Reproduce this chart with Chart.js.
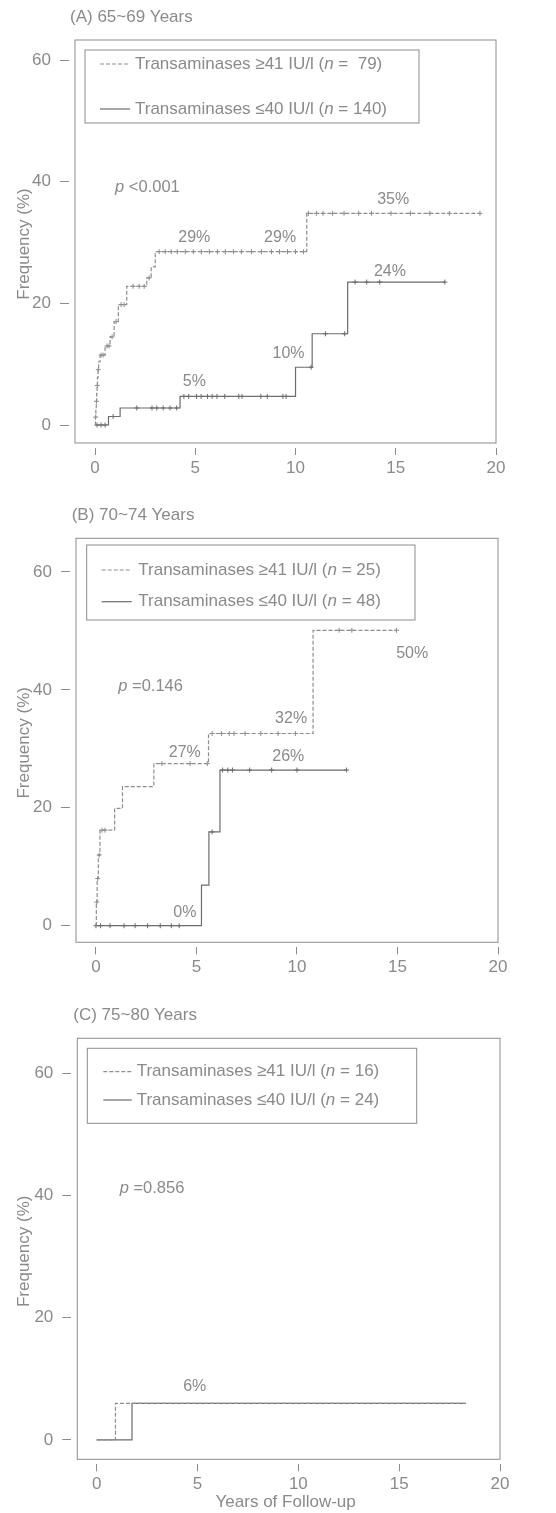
<!DOCTYPE html>
<html>
<head>
<meta charset="utf-8">
<title>Cumulative incidence by transaminase level and age</title>
<script src="https://cdn.jsdelivr.net/npm/chart.js@4.4.1/dist/chart.umd.min.js"></script>
<style>
  html, body { margin: 0; padding: 0; background: #fff; }
  #wrap { position: relative; width: 556px; height: 1513px; }
  canvas { position: absolute; left: 0; }
</style>
</head>
<body>
<div id="wrap">
  <canvas id="chartA" width="556" height="490" style="top:0px"></canvas>
  <canvas id="chartB" width="556" height="500" style="top:490px"></canvas>
  <canvas id="chartC" width="556" height="523" style="top:990px"></canvas>
</div>
<script>
// Axis ticks
const xTicks = [0, 5, 10, 15, 20]
const yTicks = [0, 20, 40, 60]
const groupLabels = ["Transaminases \u226541 IU/l", "Transaminases \u226440 IU/l"]

// (A) 65~69 Years
const aGroupN = [" 79", "140"]
const aHighTimes = [0, 0.02, 0.04, 0.06, 0.08, 0.1, 0.12, 0.15, 0.18, 0.25, 0.5, 0.75, 0.95, 1.16, 1.58, 2.58, 2.8, 3.0, 10.56, 19.2]
const aHighValues = [0, 1.3, 2.6, 3.9, 5.2, 6.5, 7.8, 9.1, 10.4, 11.5, 13.0, 14.5, 17.0, 19.8, 22.8, 24.2, 26.0, 28.5, 34.8, 34.8]
const aHighCensor = [0.03, 0.07, 0.11, 0.16, 0.3, 0.4, 0.6, 0.7, 0.85, 1.05, 1.3, 1.45, 1.9, 2.2, 2.45, 2.7, 3.2, 3.5, 3.8, 4.1, 4.5, 4.9, 5.3, 5.7, 6.1, 6.5, 6.9, 7.3, 7.8, 8.3, 8.8, 9.2, 9.6, 10.0, 10.4, 10.64, 11.04, 11.37, 11.85, 12.42, 13.15, 13.79, 14.76, 15.73, 16.7, 17.67, 19.2]
const aLowTimes = [0, 0.67, 1.25, 4.24, 10.0, 10.83, 12.6, 17.45]
const aLowValues = [0, 1.4, 2.8, 4.7, 9.5, 15.0, 23.5, 23.5]
const aLowCensor = [0.1, 0.3, 0.5, 0.9, 2.08, 2.84, 3.08, 3.4, 3.74, 4.07, 4.43, 4.67, 5.06, 5.29, 5.61, 5.84, 6.08, 6.47, 7.17, 7.33, 8.27, 8.59, 9.37, 9.53, 10.78, 11.49, 12.45, 12.97, 13.55, 14.2, 17.45]
const aPctText = ["29%", "29%", "35%", "24%", "10%", "5%"]
const aPctX = [4.95, 9.23, 14.87, 14.71, 9.65, 4.95]
const aPctY = [30.8, 30.8, 37.0, 25.2, 11.8, 7.1]

// (B) 70~74 Years
const bGroupN = ["25", "48"]
const bHighTimes = [0, 0.02, 0.06, 0.12, 0.2, 0.93, 1.32, 2.88, 5.6, 10.8, 14.95]
const bHighValues = [0, 4.0, 8.0, 12.0, 16.2, 19.9, 23.6, 27.5, 32.6, 50.1, 50.1]
const bHighCensor = [0.04, 0.09, 0.16, 0.3, 0.45, 3.28, 4.68, 5.54, 5.78, 6.24, 6.63, 6.87, 7.42, 8.2, 9.06, 9.92, 12.1, 12.73, 14.95]
const bLowTimes = [0, 5.25, 5.62, 6.17, 12.47]
const bLowValues = [0, 6.9, 15.9, 26.4, 26.4]
const bLowCensor = [0.0, 0.23, 0.7, 1.4, 1.95, 2.57, 3.2, 3.75, 4.14, 5.78, 6.3, 6.56, 6.79, 7.65, 8.74, 10.0, 12.47]
const bPctText = ["32%", "50%", "27%", "26%", "0%"]
const bPctX = [9.71, 15.73, 4.42, 9.57, 4.42]
const bPctY = [35.2, 46.2, 29.3, 28.6, 2.2]

// (C) 75~80 Years
const cGroupN = ["16", "24"]
const cHighTimes = [0, 0.93, 18.3]
const cHighValues = [0, 6.0, 6.0]
const cHighCensor = []
const cLowTimes = [0, 1.75, 18.3]
const cLowValues = [0, 6.0, 6.0]
const cLowCensor = []
const cPctText = ["6%"]
const cPctX = [4.86]
const cPctY = [8.8]

// Styles
const FONT = "'Liberation Sans', Arial, sans-serif"
const TEXT = "#8a8a8a"
const FRAME = "#8c8c8c"
const HIGH_COLOR = "#8e8e8e"
const LOW_COLOR = "#6c6c6c"

Chart.defaults.font.family = FONT
Chart.defaults.color = TEXT

function stepAt(times, values, t) {
  let v = values[0]
  for (let i = 0; i < times.length; i++) {
    if (times[i] <= t) v = values[i]
  }
  return v
}

function curve(times, values) {
  return times.map((t, i) => ({ x: t, y: values[i] }))
}

function marks(times, values, censor) {
  return censor.map((t) => ({ x: t, y: stepAt(times, values, t) }))
}

// text with italic pieces, left aligned
function drawRich(ctx, parts, x, y, size) {
  let cx = x
  parts.forEach(([text, italic]) => {
    ctx.font = `${italic ? "italic " : ""}${size}px ${FONT}`
    ctx.fillText(text, cx, y)
    cx += ctx.measureText(text).width
  })
}

const panelDecor = {
  id: "panelDecor",
  afterDraw(chart, args, opts) {
    const ctx = chart.ctx
    const area = chart.chartArea
    const xs = chart.scales.x
    const ys = chart.scales.y
    ctx.save()

    // plot frame (axes sit a few px off the frame)
    ctx.strokeStyle = FRAME
    ctx.lineWidth = 1
    ctx.strokeRect(area.left + opts.gapX, area.top, area.right - area.left - opts.gapX, area.bottom - area.top - opts.gapY)

    // panel title
    ctx.fillStyle = TEXT
    ctx.textAlign = "left"
    ctx.textBaseline = "middle"
    ctx.font = `17px ${FONT}`
    ctx.fillText(opts.title, opts.titleX, opts.titleY)

    // legend
    const lg = opts.legend
    ctx.strokeRect(lg.left, lg.top, lg.right - lg.left, lg.bottom - lg.top)
    chart.data.datasets.filter((d) => d.legendText).forEach((d, i) => {
      const y = lg.rows[i]
      ctx.strokeStyle = d.borderColor
      ctx.lineWidth = 1.2
      ctx.setLineDash(d.borderDash || [])
      ctx.beginPath()
      ctx.moveTo(lg.lineFrom, y)
      ctx.lineTo(lg.lineTo, y)
      ctx.stroke()
      ctx.setLineDash([])
      drawRich(ctx, [[d.legendText + " (", false], ["n", true], [" = " + d.groupN + ")", false]], lg.textX, y, 17)
    })

    // p value
    drawRich(ctx, [["p", true], [" " + opts.pText, false]], xs.getPixelForValue(opts.pX), ys.getPixelForValue(opts.pY), 16.5)

    // percentages
    ctx.textAlign = "center"
    ctx.font = `16px ${FONT}`
    opts.pctText.forEach((t, i) => {
      ctx.fillText(t, xs.getPixelForValue(opts.pctX[i]), ys.getPixelForValue(opts.pctY[i]))
    })
    ctx.restore()
  }
}

function makePanel(id, cfg) {
  const L = cfg.layout
  return new Chart(document.getElementById(id), {
    type: "scatter",
    data: {
      datasets: [
        {
          legendText: groupLabels[0],
          groupN: cfg.groupN[0],
          data: curve(cfg.highT, cfg.highV),
          showLine: true,
          stepped: "before",
          borderColor: HIGH_COLOR,
          borderDash: [4, 2],
          borderWidth: 1.2,
          pointRadius: 0,
        },
        {
          legendText: groupLabels[1],
          groupN: cfg.groupN[1],
          data: curve(cfg.lowT, cfg.lowV),
          showLine: true,
          stepped: "before",
          borderColor: LOW_COLOR,
          borderWidth: 1.2,
          pointRadius: 0,
        },
        {
          data: marks(cfg.highT, cfg.highV, cfg.highC),
          showLine: false,
          pointStyle: "cross",
          pointRadius: 2.5,
          borderColor: HIGH_COLOR,
          borderWidth: 1,
        },
        {
          data: marks(cfg.lowT, cfg.lowV, cfg.lowC),
          showLine: false,
          pointStyle: "cross",
          pointRadius: 2.5,
          borderColor: LOW_COLOR,
          borderWidth: 1,
        },
      ],
    },
    options: {
      responsive: false,
      animation: false,
      events: [],
      layout: { padding: { left: 0, top: L.top, right: 556 - L.right, bottom: 0 } },
      plugins: {
        legend: { display: false },
        tooltip: { enabled: false },
        panelDecor: {
          gapX: L.gapX,
          gapY: L.gapY,
          title: cfg.title,
          titleX: cfg.titleX,
          titleY: cfg.titleY,
          legend: cfg.legend,
          pText: cfg.pText,
          pX: cfg.pX,
          pY: cfg.pY,
          pctText: cfg.pctText,
          pctX: cfg.pctX,
          pctY: cfg.pctY,
        },
      },
      scales: {
        x: {
          type: "linear",
          min: cfg.xMin,
          max: 20,
          afterBuildTicks: (s) => { s.ticks = xTicks.map((v) => ({ value: v })) },
          afterFit: (s) => { s.height = L.height - L.bottom },
          grid: { drawOnChartArea: false, drawTicks: true, tickLength: 7, color: FRAME },
          border: { display: false },
          ticks: { color: TEXT, font: { size: 17 }, padding: 3, maxRotation: 0, autoSkip: false },
          title: {
            display: cfg.showXTitle,
            text: "Years of Follow-up",
            color: TEXT,
            font: { size: 17 },
            padding: { top: 0, bottom: 0 },
          },
        },
        y: {
          type: "linear",
          min: cfg.yMin,
          max: cfg.yMax,
          afterBuildTicks: (s) => { s.ticks = yTicks.map((v) => ({ value: v })) },
          afterFit: (s) => { s.width = L.left },
          grid: { drawOnChartArea: false, drawTicks: true, tickLength: 9, color: FRAME },
          border: { display: false },
          ticks: { color: TEXT, font: { size: 17 }, padding: 9 },
          title: {
            display: true,
            text: "Frequency (%)",
            color: TEXT,
            font: { size: 17 },
            padding: { top: 14, bottom: 0 },
          },
        },
      },
    },
    plugins: [panelDecor],
  })
}

makePanel("chartA", {
  layout: { height: 490, left: 69, top: 40, right: 496, bottom: 448, gapX: 6, gapY: 5 },
  xMin: -1.3, yMin: -3.78, yMax: 63.3,
  title: "(A) 65~69 Years", titleX: 70, titleY: 17,
  legend: { left: 85, top: 50, right: 419, bottom: 123, rows: [64, 109], lineFrom: 100, lineTo: 130, textX: 135 },
  groupN: aGroupN,
  highT: aHighTimes, highV: aHighValues, highC: aHighCensor,
  lowT: aLowTimes, lowV: aLowValues, lowC: aLowCensor,
  pText: "<0.001", pX: 1.0, pY: 39.0,
  pctText: aPctText, pctX: aPctX, pctY: aPctY,
  showXTitle: false,
})

makePanel("chartB", {
  layout: { height: 500, left: 70, top: 48.3, right: 498, bottom: 457.3, gapX: 6, gapY: 5 },
  xMin: -1.29, yMin: -3.66, yMax: 65.7,
  title: "(B) 70~74 Years", titleX: 71.7, titleY: 25,
  legend: { left: 86.7, top: 55, right: 415, bottom: 130, rows: [80, 111.7], lineFrom: 101.7, lineTo: 131.7, textX: 138.3 },
  groupN: bGroupN,
  highT: bHighTimes, highV: bHighValues, highC: bHighCensor,
  lowT: bLowTimes, lowV: bLowValues, lowC: bLowCensor,
  pText: "=0.146", pX: 1.11, pY: 40.5,
  pctText: bPctText, pctX: bPctX, pctY: bPctY,
  showXTitle: false,
})

makePanel("chartC", {
  layout: { height: 523, left: 71.3, top: 48.3, right: 500, bottom: 474.3, gapX: 6, gapY: 5 },
  xMin: -1.26, yMin: -3.98, yMax: 65.7,
  title: "(C) 75~80 Years", titleX: 73.3, titleY: 25,
  legend: { left: 87.3, top: 58.3, right: 416.7, bottom: 133.3, rows: [81.7, 110], lineFrom: 103.3, lineTo: 131.7, textX: 136.7 },
  groupN: cGroupN,
  highT: cHighTimes, highV: cHighValues, highC: cHighCensor,
  lowT: cLowTimes, lowV: cLowValues, lowC: cLowCensor,
  pText: "=0.856", pX: 1.14, pY: 41.2,
  pctText: cPctText, pctX: cPctX, pctY: cPctY,
  showXTitle: true,
})
</script>
</body>
</html>
